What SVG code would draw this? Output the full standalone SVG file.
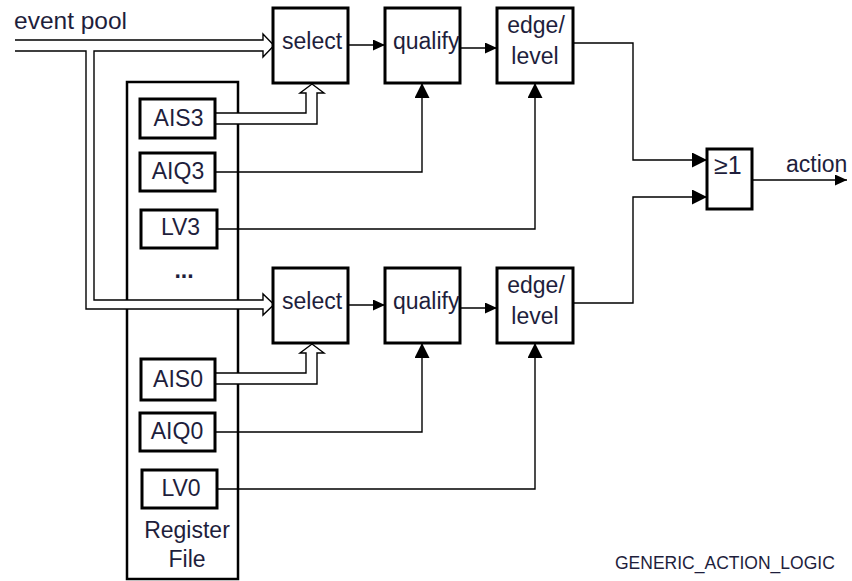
<svg xmlns="http://www.w3.org/2000/svg" width="852" height="581" viewBox="0 0 852 581">
<style>
  .box { fill: #fff; stroke: #000; stroke-width: 3; }
  .reg { fill: #fff; stroke: #000; stroke-width: 2.5; }
  .t { font-family: "Liberation Sans", Arial, sans-serif; font-size: 23px; fill: #1e1e3c; }
  .tc { text-anchor: middle; }
  .ln { fill: none; stroke: #000; stroke-width: 1.4; }
  .bus { fill: #fff; stroke: #000; stroke-width: 1.4; stroke-linejoin: miter; }
</style>
<defs>
  <marker id="ah" markerUnits="userSpaceOnUse" markerWidth="12" markerHeight="11" refX="12" refY="5.5" orient="auto">
    <path d="M0,0 L12,5.5 L0,11 Z" fill="#000"/>
  </marker>
  <marker id="ahL" markerUnits="userSpaceOnUse" markerWidth="15" markerHeight="15" refX="15" refY="7.5" orient="auto">
    <path d="M0,0 L15,7.5 L0,15 Z" fill="#000"/>
  </marker>
</defs>
<rect width="852" height="581" fill="#fff"/>

<text class="t" x="14" y="29" style="font-size:24.5px">event pool</text>

<g id="register-file">
  <rect class="reg" x="127" y="82" width="111" height="497"/>
  <text class="t tc" x="184" y="278" style="font-weight:bold">...</text>
  <text class="t tc" x="187" y="538">Register</text>
  <text class="t tc" x="187" y="567">File</text>
</g>

<g id="connectors">
  <path class="bus" d="M15,51 H86 V309 H263 V315 L274,304.5 L263,294 V300 H94 V51 H263 V57 L274,45.5 L263,34 V40 H15"/>
  <path class="bus" d="M215,124 H317 V93 H324 L312,84 L300,93 H306 V113 H215"/>
  <path class="bus" d="M215,384 H317 V353 H324 L312,344 L300,353 H306 V373 H215"/>
  <path class="ln" d="M348,45 H385" marker-end="url(#ah)"/>
  <path class="ln" d="M460,48 H497" marker-end="url(#ah)"/>
  <path class="ln" d="M573,43 H633 V160 H707" marker-end="url(#ahL)"/>
  <path class="ln" d="M215,172 H422 V83" marker-end="url(#ahL)"/>
  <path class="ln" d="M217,229 H535 V83" marker-end="url(#ahL)"/>
  <path class="ln" d="M348,305 H385" marker-end="url(#ah)"/>
  <path class="ln" d="M460,308 H497" marker-end="url(#ah)"/>
  <path class="ln" d="M573,303 H633 V197 H707" marker-end="url(#ahL)"/>
  <path class="ln" d="M215,432 H422 V343" marker-end="url(#ahL)"/>
  <path class="ln" d="M217,489 H535 V343" marker-end="url(#ahL)"/>
  <path class="ln" d="M752,180 H847" marker-end="url(#ah)"/>
</g>

<g id="AIS3"><rect class="box" x="140" y="99" width="75" height="39"/><text class="t tc" x="178.5" y="126">AIS3</text></g>
<g id="AIQ3"><rect class="box" x="140" y="153" width="75" height="38"/><text class="t tc" x="178" y="179">AIQ3</text></g>
<g id="LV3"><rect class="box" x="141" y="210" width="76" height="38"/><text class="t tc" x="180.5" y="235">LV3</text></g>
<g id="AIS0"><rect class="box" x="141" y="359" width="74" height="41"/><text class="t tc" x="178" y="387">AIS0</text></g>
<g id="AIQ0"><rect class="box" x="140" y="413" width="75" height="38"/><text class="t tc" x="177" y="439">AIQ0</text></g>
<g id="LV0"><rect class="box" x="142" y="470" width="75" height="38"/><text class="t tc" x="181" y="496">LV0</text></g>

<g id="select3"><rect class="box" x="273" y="8" width="75" height="75"/><text class="t" x="282" y="49">select</text></g>
<g id="qualify3"><rect class="box" x="385" y="8" width="75" height="75"/><text class="t" x="393" y="49">qualify</text></g>
<g id="edge3"><rect class="box" x="497" y="8" width="76" height="75"/><text class="t tc" x="536" y="33">edge/</text><text class="t tc" x="535" y="64">level</text></g>

<g id="select0"><rect class="box" x="273" y="268" width="75" height="75"/><text class="t" x="282" y="309">select</text></g>
<g id="qualify0"><rect class="box" x="385" y="268" width="75" height="75"/><text class="t" x="393" y="309">qualify</text></g>
<g id="edge0"><rect class="box" x="497" y="268" width="76" height="75"/><text class="t tc" x="536" y="293">edge/</text><text class="t tc" x="535" y="324">level</text></g>

<g id="or-gate"><rect class="box" x="707" y="149" width="45" height="60" stroke-width="2.5"/><text class="t" x="714" y="174" style="font-size:25px">≥1</text></g>
<text class="t" x="786" y="172">action</text>

<text class="t" x="615" y="569" style="font-size:17.5px">GENERIC_ACTION_LOGIC</text>
</svg>
